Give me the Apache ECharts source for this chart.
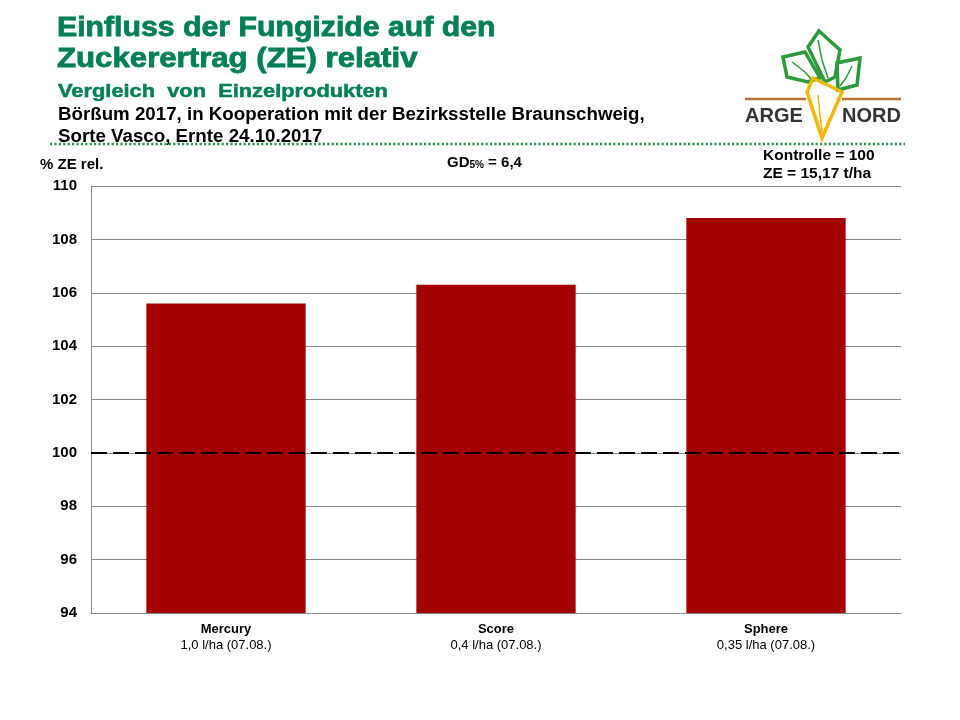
<!DOCTYPE html>
<html><head><meta charset="utf-8">
<script src="https://cdn.jsdelivr.net/npm/echarts@6/dist/echarts.min.js"></script>
<style>html,body{margin:0;padding:0;background:#fff}#c{width:960px;height:720px}</style>
</head><body><div id="c"></div>
<script>
var categories = ['Mercury', 'Score', 'Sphere'];
var doses = ['1,0 l/ha (07.08.)', '0,4 l/ha (07.08.)', '0,35 l/ha (07.08.)'];
var values = [105.6, 106.3, 108.8];
var controlLevel = 100;
var yMin = 94, yMax = 110, yStep = 2;

var chart = echarts.init(document.getElementById('c'));
var F = 'Liberation Sans, Arial, sans-serif';
var green = '#007f56';
var leafGreen = '#2a9a3a';
function txt(x, y, text, font, fill, sx, lw) {
  var st = {text: text, font: font, fill: fill, verticalAlign: 'top', align: 'left'};
  if (lw) { st.stroke = fill; st.lineWidth = lw; }
  return {type: 'text', x: x, y: y, scaleX: sx || 1, style: st};
}
var option = {
  animation: false,
  grid: {left: 91, right: 59, top: 186, bottom: 107},
  xAxis: {
    type: 'category', data: categories,
    axisLine: {lineStyle: {color: '#888', width: 1}},
    axisTick: {show: false},
    axisLabel: {
      margin: 8, interval: 0,
      formatter: function (v, i) { return '{b|' + v + '}\n{n|' + doses[i] + '}'; },
      rich: {
        b: {fontFamily: F, fontSize: 13, fontWeight: 'bold', color: '#000', lineHeight: 16},
        n: {fontFamily: F, fontSize: 13, color: '#000', lineHeight: 16}
      }
    }
  },
  yAxis: {
    type: 'value', min: yMin, max: yMax, interval: yStep,
    axisLine: {show: true, lineStyle: {color: '#888', width: 1}},
    axisTick: {show: false},
    splitLine: {lineStyle: {color: '#888', width: 1}},
    axisLabel: {fontFamily: F, fontSize: 15, fontWeight: 'bold', color: '#000', margin: 14}
  },
  series: [{
    type: 'bar', data: values, barWidth: '59%',
    itemStyle: {color: '#a30000'},
    markLine: {
      silent: true, symbol: ['none', 'none'], label: {show: false},
      lineStyle: {color: '#000', width: 2, type: [16, 6]},
      data: [{yAxis: controlLevel}]
    }
  }],
  graphic: [
    txt(57, 15, 'Einfluss der Fungizide auf den', 'bold 27px ' + F, green, 1.12, 0.8),
    txt(57, 46, 'Zuckerertrag (ZE) relativ', 'bold 27px ' + F, green, 1.155, 0.8),
    txt(58, 82, 'Vergleich  von  Einzelprodukten', 'bold 18.5px ' + F, green, 1.18, 0.5),
    txt(58, 106, 'Börßum 2017, in Kooperation mit der Bezirksstelle Braunschweig,', 'bold 18px ' + F, '#000', 1.04),
    txt(58, 128, 'Sorte Vasco, Ernte 24.10.2017', 'bold 18px ' + F, '#000', 1.04),
    {type: 'line', shape: {x1: 50, y1: 144, x2: 905, y2: 144}, style: {stroke: '#2d9150', lineWidth: 2.5, lineDash: [2.2, 2.2]}},
    txt(40, 157, '% ZE rel.', 'bold 15px ' + F, '#000'),
    {type: 'text', x: 447, y: 152, style: {
      text: '{a|GD}{s|5%}{a| = 6,4}', verticalAlign: 'top', align: 'left',
      rich: {a: {fontFamily: F, fontSize: 15, fontWeight: 'bold', fill: '#000', verticalAlign: 'bottom', lineHeight: 18},
             s: {fontFamily: F, fontSize: 10, fontWeight: 'bold', fill: '#000', verticalAlign: 'bottom', lineHeight: 14}}
    }},
    txt(763, 148, 'Kontrolle = 100', 'bold 15.5px ' + F, '#000'),
    txt(763, 166, 'ZE = 15,17 t/ha', 'bold 15.5px ' + F, '#000'),
    // logo
    {type: 'line', shape: {x1: 745, y1: 99, x2: 806, y2: 99}, style: {stroke: '#b5703a', lineWidth: 2.5}},
    {type: 'line', shape: {x1: 842, y1: 99, x2: 901, y2: 99}, style: {stroke: '#b5703a', lineWidth: 2.5}},
    {type: 'polygon', shape: {points: [[819, 31], [840, 50], [835, 77], [825, 82], [808, 47]]}, style: {fill: 'none', stroke: leafGreen, lineWidth: 3.5}},
    {type: 'polyline', shape: {points: [[818, 40], [822, 60], [828, 78]]}, style: {stroke: leafGreen, lineWidth: 1.5}},
    {type: 'polygon', shape: {points: [[783, 57], [805, 52], [820, 78], [808, 82], [787, 77]]}, style: {fill: 'none', stroke: leafGreen, lineWidth: 3.5}},
    {type: 'polyline', shape: {points: [[792, 62], [805, 72], [812, 80]]}, style: {stroke: leafGreen, lineWidth: 1.5}},
    {type: 'polygon', shape: {points: [[837, 63], [860, 58], [857, 85], [838, 90]]}, style: {fill: 'none', stroke: leafGreen, lineWidth: 3.5}},
    {type: 'polyline', shape: {points: [[852, 66], [846, 78], [840, 86]]}, style: {stroke: leafGreen, lineWidth: 1.5}},
    {type: 'polygon', shape: {points: [[813, 78], [842, 92], [822, 138], [807, 92]]}, style: {fill: 'none', stroke: '#f2b800', lineWidth: 3.5}},
    {type: 'polyline', shape: {points: [[818, 95], [820, 115], [822, 132]]}, style: {stroke: '#f2b800', lineWidth: 1.5}},
    txt(745, 106, 'ARGE', 'bold 20px ' + F, '#333'),
    txt(842, 106, 'NORD', 'bold 20px ' + F, '#333')
  ]
};
chart.setOption(option);
</script></body></html>
